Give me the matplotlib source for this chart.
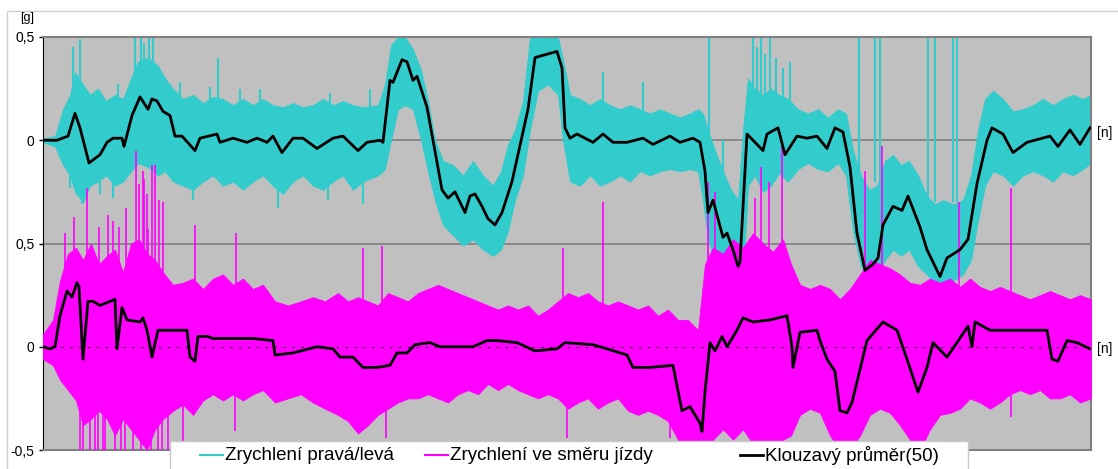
import numpy as np
import matplotlib.pyplot as plt
from matplotlib.patches import Rectangle
from matplotlib.lines import Line2D

plt.rcParams['font.family'] = ['Liberation Sans', 'DejaVu Sans']

# --- lateral acceleration (cyan), plotted with offset +1 g ---
lat_ma_n = [0, 14, 25, 32, 37, 46, 57, 64, 70, 79, 81, 89, 97, 105, 109, 114, 120, 127, 132, 139,
            152, 157, 174, 177, 190, 204, 214, 224, 230, 239, 250, 260, 274, 290, 300, 315, 324, 337,
            340, 347, 350, 359, 364, 370, 374, 384, 399, 405, 412, 422, 427, 432, 439, 445, 452, 459,
            469, 480, 485, 492, 499, 514, 519, 522, 527, 534, 550, 560, 570, 584, 600, 610, 627, 637,
            650, 657, 662, 665, 670, 680, 684, 690, 695, 697, 704, 710, 720, 724, 735, 742, 754, 764,
            774, 784, 792, 800, 807, 814, 822, 830, 835, 840, 850, 859, 865, 877, 884, 897, 904, 917,
            925, 934, 944, 949, 960, 970, 984, 1007, 1015, 1027, 1037, 1047]
lat_ma = [0.00, 0.00, 0.02, 0.13, 0.06, -0.11, -0.07, -0.01, 0.01, 0.01, -0.03, 0.12, 0.21, 0.15, 0.20,
          0.19, 0.14, 0.12, 0.02, 0.02, -0.05, 0.01, 0.03, -0.01, 0.01, -0.01, 0.01, -0.01, 0.02, -0.06,
          0.01, 0.01, -0.04, 0.01, 0.02, -0.05, -0.01, 0.00, -0.01, 0.29, 0.28, 0.39, 0.38, 0.29, 0.31,
          0.16, -0.24, -0.28, -0.25, -0.35, -0.27, -0.26, -0.32, -0.38, -0.41, -0.35, -0.20, 0.04, 0.15,
          0.40, 0.41, 0.43, 0.35, 0.06, 0.01, 0.03, -0.01, 0.03, -0.01, -0.01, 0.01, -0.02, 0.02, -0.01,
          0.01, -0.01, -0.15, -0.35, -0.29, -0.47, -0.45, -0.53, -0.61, -0.59, 0.03, 0.00, -0.05, 0.03,
          0.06, -0.07, 0.02, 0.01, 0.02, -0.04, 0.06, 0.04, -0.13, -0.45, -0.63, -0.60, -0.57, -0.41,
          -0.32, -0.34, -0.27, -0.42, -0.53, -0.66, -0.57, -0.53, -0.48, -0.21, 0.00, 0.06, 0.03, -0.06,
          -0.01, 0.02, -0.03, 0.05, -0.02, 0.06]

lat_band_n = [0, 12, 20, 27, 32, 40, 47, 55, 63, 72, 80, 88, 95, 105, 115, 122, 130, 140, 150, 160,
              170, 180, 190, 200, 210, 220, 230, 240, 250, 260, 270, 280, 290, 300, 310, 320, 335, 342,
              348, 355, 362, 370, 378, 385, 392, 400, 410, 420, 430, 440, 450, 458, 465, 472, 480, 487,
              495, 505, 515, 520, 527, 537, 547, 557, 567, 577, 587, 597, 607, 617, 627, 637, 647, 655,
              660, 665, 672, 680, 688, 695, 700, 705, 712, 720, 728, 736, 745, 755, 765, 775, 785, 795,
              803, 810, 818, 826, 834, 842, 850, 858, 866, 875, 884, 892, 900, 910, 920, 928, 935, 942,
              950, 960, 970, 980, 990, 1000, 1010, 1020, 1030, 1040, 1048]
lat_hi = [0.01, 0.02, 0.15, 0.22, 0.33, 0.27, 0.22, 0.25, 0.19, 0.22, 0.20, 0.30, 0.38, 0.40, 0.36, 0.30,
          0.25, 0.20, 0.22, 0.18, 0.21, 0.20, 0.17, 0.20, 0.17, 0.20, 0.17, 0.16, 0.18, 0.16, 0.17, 0.20,
          0.17, 0.19, 0.17, 0.16, 0.17, 0.27, 0.46, 0.50, 0.50, 0.44, 0.34, 0.19, 0.00, -0.10, -0.12, -0.17,
          -0.10, -0.17, -0.22, -0.15, -0.02, 0.05, 0.19, 0.50, 0.50, 0.50, 0.50, 0.39, 0.22, 0.20, 0.17,
          0.20, 0.17, 0.15, 0.17, 0.15, 0.13, 0.15, 0.13, 0.11, 0.13, 0.15, 0.13, 0.05, -0.05, -0.15, -0.24,
          -0.29, 0.05, 0.30, 0.25, 0.22, 0.25, 0.22, 0.20, 0.15, 0.13, 0.15, 0.11, 0.15, 0.13, -0.05, -0.17,
          -0.24, -0.22, -0.10, -0.07, -0.12, -0.10, -0.17, -0.27, -0.31, -0.29, -0.31, -0.29, -0.17, 0.05,
          0.20, 0.24, 0.20, 0.14, 0.15, 0.17, 0.20, 0.17, 0.20, 0.22, 0.20, 0.22]
lat_lo = [-0.01, -0.03, -0.12, -0.17, -0.25, -0.30, -0.22, -0.20, -0.17, -0.22, -0.20, -0.15, -0.11, -0.13,
          -0.17, -0.15, -0.20, -0.22, -0.24, -0.20, -0.17, -0.22, -0.20, -0.24, -0.20, -0.17, -0.22, -0.26,
          -0.20, -0.17, -0.22, -0.24, -0.20, -0.17, -0.24, -0.20, -0.17, -0.14, 0.00, 0.15, 0.17, 0.15, 0.00,
          -0.15, -0.29, -0.41, -0.46, -0.51, -0.48, -0.53, -0.56, -0.53, -0.44, -0.29, -0.17, 0.05, 0.24,
          0.27, 0.22, 0.00, -0.20, -0.22, -0.17, -0.22, -0.20, -0.17, -0.20, -0.15, -0.17, -0.15, -0.14,
          -0.15, -0.14, -0.15, -0.29, -0.48, -0.58, -0.68, -0.75, -0.77, -0.68, -0.22, -0.17, -0.25, -0.22,
          -0.16, -0.20, -0.14, -0.11, -0.14, -0.15, -0.11, -0.17, -0.44, -0.61, -0.68, -0.65, -0.58, -0.53,
          -0.56, -0.53, -0.61, -0.65, -0.70, -0.73, -0.68, -0.65, -0.58, -0.39, -0.22, -0.15, -0.17, -0.22,
          -0.17, -0.15, -0.17, -0.20, -0.15, -0.17, -0.14, -0.11]

lat_spike_n = [27, 30, 37, 39, 57, 70, 75, 92, 98, 101, 106, 110, 137, 150, 167, 175, 197, 217, 235, 285,
               287, 320, 327, 560, 600, 666, 680, 710, 714, 718, 722, 727, 733, 740, 747, 816, 832, 837,
               885, 892, 910, 914]
lat_spike_lo = [-0.23, 0.00, 0.00, -0.31, -0.26, -0.28, 0.00, 0.00, 0.00, 0.00, 0.00, 0.00, 0.00, -0.29,
                0.00, 0.00, 0.00, 0.00, -0.33, -0.29, 0.00, -0.31, 0.00, 0.00, 0.00, -0.30, -0.45, 0.00,
                0.00, 0.00, 0.00, 0.00, 0.00, 0.00, 0.00, -0.20, -0.20, -0.20, -0.30, -0.30, -0.30, -0.30]
lat_spike_hi = [0.00, 0.45, 0.49, 0.00, 0.00, 0.00, 0.27, 0.50, 0.50, 0.47, 0.50, 0.50, 0.28, 0.00, 0.26,
                0.40, 0.25, 0.25, 0.00, 0.00, 0.23, 0.00, 0.25, 0.33, 0.28, 0.50, 0.00, 0.50, 0.45, 0.50,
                0.42, 0.50, 0.40, 0.35, 0.38, 0.50, 0.50, 0.50, 0.50, 0.50, 0.50, 0.50]

# --- longitudinal acceleration (magenta) ---
lon_ma_n = [0, 7, 12, 17, 24, 29, 34, 36, 40, 45, 50, 57, 72, 74, 79, 84, 97, 100, 104, 109, 115, 120,
            144, 147, 152, 155, 164, 170, 190, 210, 230, 232, 250, 274, 290, 297, 310, 320, 334, 347,
            354, 364, 372, 387, 397, 430, 444, 454, 474, 492, 514, 522, 550, 564, 584, 590, 607, 630,
            634, 639, 647, 657, 659, 662, 667, 672, 679, 684, 694, 700, 710, 727, 744, 749, 750, 757,
            774, 777, 784, 792, 797, 804, 809, 817, 824, 840, 854, 864, 875, 884, 890, 904, 914, 925,
            929, 932, 947, 967, 1004, 1009, 1015, 1024, 1034, 1047]
lon_ma = [0.00, -0.01, 0.00, 0.15, 0.27, 0.24, 0.31, 0.29, -0.06, 0.22, 0.22, 0.20, 0.23, -0.01, 0.19,
          0.13, 0.12, 0.14, 0.08, -0.05, 0.08, 0.08, 0.08, -0.05, -0.07, 0.05, 0.05, 0.04, 0.04, 0.04,
          0.03, -0.04, -0.03, 0.00, -0.01, -0.05, -0.05, -0.10, -0.10, -0.09, -0.03, -0.03, 0.01, 0.02,
          0.00, 0.00, 0.03, 0.03, 0.02, -0.02, -0.01, 0.02, 0.01, -0.01, -0.04, -0.10, -0.10, -0.09,
          -0.19, -0.31, -0.29, -0.37, -0.41, -0.22, 0.02, -0.02, 0.05, 0.00, 0.08, 0.14, 0.12, 0.13,
          0.15, 0.00, -0.10, 0.07, 0.08, 0.03, -0.06, -0.12, -0.31, -0.32, -0.27, -0.11, 0.03, 0.12,
          0.08, -0.06, -0.22, -0.10, 0.02, -0.05, 0.02, 0.10, 0.00, 0.12, 0.08, 0.08, 0.08, -0.06, -0.07,
          0.03, 0.02, -0.01]

lon_band_n = [0, 10, 17, 25, 33, 40, 48, 56, 64, 72, 80, 88, 96, 104, 112, 120, 130, 140, 150, 160, 170,
              180, 190, 200, 210, 220, 232, 245, 258, 270, 282, 295, 305, 315, 325, 335, 345, 355, 365,
              375, 385, 395, 405, 415, 425, 435, 445, 455, 465, 475, 485, 495, 505, 515, 525, 535, 545,
              555, 565, 575, 585, 595, 605, 615, 625, 635, 645, 655, 662, 670, 680, 690, 700, 710, 720,
              730, 740, 748, 757, 767, 777, 787, 797, 807, 817, 827, 837, 847, 857, 867, 877, 887, 897,
              907, 917, 927, 937, 947, 957, 967, 977, 987, 997, 1007, 1017, 1027, 1037, 1048]
lon_hi = [0.06, 0.13, 0.32, 0.45, 0.48, 0.42, 0.50, 0.40, 0.44, 0.47, 0.36, 0.50, 0.52, 0.45, 0.42, 0.36,
          0.30, 0.31, 0.33, 0.28, 0.33, 0.35, 0.30, 0.33, 0.28, 0.30, 0.22, 0.20, 0.22, 0.24, 0.22, 0.26,
          0.22, 0.24, 0.22, 0.20, 0.26, 0.24, 0.22, 0.26, 0.28, 0.30, 0.28, 0.26, 0.24, 0.22, 0.20, 0.18,
          0.20, 0.18, 0.20, 0.15, 0.18, 0.22, 0.26, 0.24, 0.26, 0.22, 0.20, 0.22, 0.20, 0.18, 0.20, 0.15,
          0.18, 0.13, 0.13, 0.08, 0.40, 0.48, 0.45, 0.52, 0.48, 0.55, 0.50, 0.46, 0.52, 0.40, 0.30, 0.28,
          0.30, 0.28, 0.23, 0.28, 0.35, 0.42, 0.40, 0.38, 0.35, 0.31, 0.30, 0.33, 0.31, 0.33, 0.29, 0.33,
          0.29, 0.27, 0.29, 0.27, 0.25, 0.23, 0.25, 0.27, 0.25, 0.23, 0.25, 0.23]
lon_lo = [-0.06, -0.09, -0.16, -0.21, -0.26, -0.38, -0.35, -0.31, -0.35, -0.43, -0.35, -0.40, -0.45, -0.50,
          -0.40, -0.35, -0.31, -0.28, -0.33, -0.26, -0.23, -0.26, -0.23, -0.26, -0.23, -0.21, -0.27, -0.25,
          -0.23, -0.27, -0.30, -0.33, -0.36, -0.42, -0.38, -0.33, -0.30, -0.27, -0.25, -0.25, -0.23, -0.25,
          -0.27, -0.23, -0.21, -0.23, -0.18, -0.21, -0.18, -0.21, -0.23, -0.25, -0.23, -0.25, -0.30, -0.27,
          -0.25, -0.30, -0.27, -0.25, -0.31, -0.33, -0.31, -0.33, -0.36, -0.45, -0.50, -0.50, -0.50, -0.45,
          -0.40, -0.45, -0.40, -0.47, -0.45, -0.50, -0.45, -0.43, -0.33, -0.30, -0.32, -0.43, -0.50, -0.50,
          -0.43, -0.33, -0.30, -0.32, -0.38, -0.45, -0.50, -0.40, -0.33, -0.32, -0.30, -0.25, -0.27, -0.30,
          -0.27, -0.23, -0.21, -0.23, -0.21, -0.25, -0.25, -0.23, -0.27, -0.25]

lon_spike_n = [22, 31, 37, 40, 44, 47, 52, 55, 56, 60, 62, 65, 70, 72, 76, 78, 82, 83, 90, 93, 96, 98, 100,
               101, 104, 105, 108, 109, 112, 115, 116, 119, 120, 125, 140, 152, 192, 193, 320, 339, 343,
               520, 524, 560, 627, 665, 672, 712, 718, 726, 739, 822, 839, 916, 968]
lon_spike_lo = [0.00, 0.00, -0.50, -0.50, 0.00, -0.50, -0.50, -0.50, 0.00, -0.50, -0.50, 0.00, 0.00, -0.50,
                0.00, -0.50, -0.50, 0.00, -0.50, 0.00, 0.00, -0.50, 0.00, 0.00, 0.00, 0.00, -0.50, 0.00,
                0.00, -0.50, 0.00, -0.50, 0.00, -0.50, -0.50, 0.00, -0.41, 0.00, 0.00, 0.00, -0.44, 0.00,
                -0.44, 0.00, -0.44, 0.00, 0.00, 0.00, 0.00, 0.00, 0.00, 0.00, 0.00, 0.00, -0.34]
lon_spike_hi = [0.55, 0.63, 0.00, 0.00, 0.77, 0.00, 0.00, 0.00, 0.58, 0.00, 0.00, 0.64, 0.61, 0.00, 0.58,
                0.00, 0.00, 0.67, 0.00, 0.95, 0.79, 0.00, 0.85, 0.81, 0.74, 0.57, 0.00, 0.88, 0.88, 0.00,
                0.71, 0.00, 0.70, 0.00, 0.00, 0.59, 0.00, 0.55, 0.48, 0.49, 0.00, 0.48, 0.00, 0.70, 0.00,
                0.80, 0.75, 0.72, 0.87, 0.80, 0.97, 0.85, 0.97, 0.70, 0.77]

offset = 1.0
cyan = '#33cccc'
magenta = '#ff00ff'

fig = plt.figure(figsize=(11.18, 4.69), dpi=100)
fig.add_artist(Rectangle((7 / 1118, -0.02), 1.2, 1 - 11 / 469 + 0.02, transform=fig.transFigure,
                         facecolor='none', edgecolor='#d0d0d0', lw=1, zorder=-1))
ax = fig.add_axes([43 / 1118, 19 / 469, 1048 / 1118, 413 / 469])
ax.set_facecolor('#c0c0c0')

ax.fill_between(lat_band_n, np.array(lat_lo) + offset, np.array(lat_hi) + offset,
                color=cyan, lw=0.6, zorder=2)
ax.vlines(lat_spike_n, np.array(lat_spike_lo) + offset, np.array(lat_spike_hi) + offset,
          color=cyan, lw=1.5, zorder=2)
ax.fill_between(lon_band_n, lon_lo, lon_hi, color=magenta, lw=0.6, zorder=3)
ax.vlines(lon_spike_n, lon_spike_lo, lon_spike_hi, color=magenta, lw=1.2, zorder=3)
ax.plot(lat_ma_n, np.array(lat_ma) + offset, color='black', lw=2, zorder=5)
ax.plot(lon_ma_n, lon_ma, color='black', lw=2, zorder=5)

ax.axhline(0, color='#202020', lw=0.8, ls=(0, (2, 6)), zorder=4)
for yv in [0.5, 1.0]:
    ax.axhline(yv, color='#808080', lw=1.2, zorder=1)

ax.set_xlim(0, 1048)
ax.set_ylim(-0.5, 1.5)
ax.set_xticks([])
ax.set_yticks([-0.5, 0, 0.5, 1.0, 1.5])
ax.set_yticklabels(['-0,5', '0', '0,5', '0', '0,5'], fontsize=10)
ax.tick_params(axis='y', length=3, width=1, pad=3)
ax.spines['left'].set_color('black')
for s in ['top', 'right', 'bottom']:
    ax.spines[s].set_color('#808080')
    ax.spines[s].set_linewidth(1.5)

fig.text(20 / 1118, 1 - 18 / 469, '[g]', fontsize=9, va='center')
fig.text(1097 / 1118, 1 - 133 / 469, '[n]', fontsize=10, va='center')
fig.text(1097 / 1118, 1 - 349 / 469, '[n]', fontsize=10, va='center')

# legend box at the bottom
fig.add_artist(Rectangle((170 / 1118, -0.02), 798 / 1118, 1 - 441 / 469 + 0.02, transform=fig.transFigure,
                         facecolor='white', edgecolor='#c8c8c8', lw=1, zorder=6))
ly = 1 - 455 / 469
items = [(200, cyan, 'Zrychlení pravá/levá'),
         (425, magenta, 'Zrychlení ve směru jízdy'),
         (740, 'black', 'Klouzavý průměr(50)')]
for x0, c, label in items:
    fig.add_artist(Line2D([x0 / 1118, (x0 + 23) / 1118], [ly, ly], transform=fig.transFigure,
                          color=c, lw=2 if c == 'black' else 1.5, zorder=7))
    fig.text((x0 + 25) / 1118, ly, label, fontsize=13.5, va='center', zorder=7)

fig.savefig('out.png', dpi=100)
